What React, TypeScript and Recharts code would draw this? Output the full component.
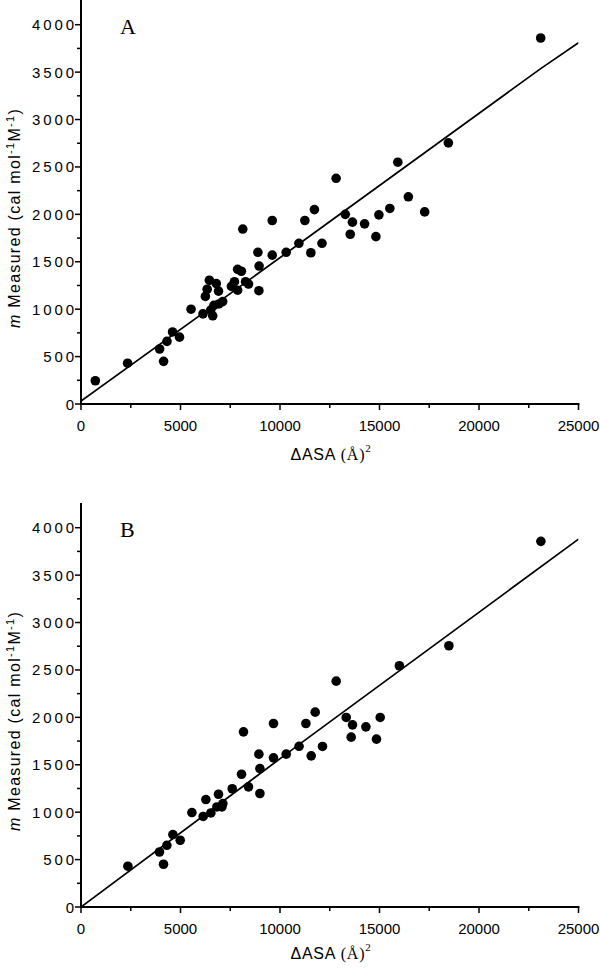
import React from "react";
import { ScatterChart, Scatter, XAxis, YAxis } from "recharts";

const SANS = "'Liberation Sans', Arial, sans-serif";
const SERIF = "'Liberation Serif', 'Times New Roman', serif";

// panel A: ΔASA (Å²) and measured m values
const aArea = [
  720, 2340, 3950, 4150, 4320, 4600, 4950, 5530, 6130, 6250, 6340, 6450, 6520,
  6620, 6680, 6800, 6910, 6930, 7120, 7560, 7710, 7870, 7870, 8060, 8130, 8270,
  8420, 8890, 8950, 8940, 9610, 9610, 10310, 10950, 11250, 11550, 11730, 12110,
  12820, 13280, 13640, 13530, 14250, 14820, 14970, 15520, 15920, 16450, 17270,
  18460, 23100,
];
const aM = [
  245, 430, 580, 450, 660, 760, 705, 1000, 950, 1135, 1210, 1305, 990, 930,
  1040, 1270, 1190, 1055, 1080, 1240, 1290, 1200, 1420, 1400, 1845, 1290, 1265,
  1600, 1455, 1195, 1935, 1570, 1600, 1695, 1935, 1595, 2050, 1695, 2380, 2000,
  1918, 1790, 1900, 1765, 1995, 2062, 2550, 2185, 2026, 2754, 3860,
];

// panel B
const bArea = [
  2355, 3945, 4146, 4315, 4618, 4985, 5573, 6140, 6276, 6527, 6910, 6827, 7080,
  7130, 7600, 8066, 8166, 8417, 8939, 8990, 8990, 9673, 9673, 10312, 10958,
  11301, 11568, 11769, 12136, 12824, 13327, 13643, 13578, 14317, 14849, 15035,
  16000, 18487, 23110,
];
const bM = [
  430, 580, 451, 651, 764, 704, 996, 955, 1133, 992, 1189, 1055, 1055, 1091,
  1247, 1400, 1847, 1267, 1612, 1460, 1197, 1935, 1573, 1612, 1695, 1935, 1594,
  2055, 1693, 2382, 1999, 1921, 1791, 1900, 1770, 1999, 2544, 2755, 3856,
];

// fitted lines
const aFitArea = [0, 11000, 23100, 25000];
const aFitM = [30, 1695, 3537, 3810];
const bFitArea = [0, 11000, 25000];
const bFitM = [0, 1720, 3880];

const xTicks = [0, 2500, 5000, 7500, 10000, 12500, 15000, 17500, 20000, 22500, 25000];
const yTicks = [
  0, 250, 500, 750, 1000, 1250, 1500, 1750, 2000, 2250, 2500, 2750, 3000, 3250,
  3500, 3750, 4000,
];

const toPts = (xs: number[], ys: number[]) => xs.map((x, i) => ({ x, y: ys[i] }));

const BottomTick = (p: any) => {
  const major = p.payload.value % 5000 === 0;
  return (
    <g>
      <line x1={p.x} x2={p.x} y1={p.y} y2={p.y + (major ? 6 : 4)} stroke="#000" strokeWidth={1.5} />
      {major && (
        <text x={p.x} y={p.y + 27} textAnchor="middle" fontFamily={SANS} fontSize={15} fill="#000">
          {p.payload.value}
        </text>
      )}
    </g>
  );
};

const TopTick = (p: any) => {
  const major = p.payload.value % 5000 === 0;
  return <line x1={p.x} x2={p.x} y1={p.y} y2={p.y + (major ? 7 : 5)} stroke="#000" strokeWidth={1.5} />;
};

const LeftTick = (p: any) => {
  const major = p.payload.value % 500 === 0;
  return (
    <g>
      <line x1={p.x} x2={p.x - (major ? 6 : 4)} y1={p.y} y2={p.y} stroke="#000" strokeWidth={1.5} />
      {major && (
        <text x={p.x - 4} y={p.y + 5.5} textAnchor="end" fontFamily={SANS} fontSize={15} letterSpacing={2.9} fill="#000">
          {p.payload.value}
        </text>
      )}
    </g>
  );
};

const RightTick = (p: any) => {
  const major = p.payload.value % 500 === 0;
  return <line x1={p.x} x2={p.x - (major ? 7 : 5)} y1={p.y} y2={p.y} stroke="#000" strokeWidth={1.5} />;
};

const Dot = (p: any) => <circle cx={p.cx} cy={p.cy} r={4.8} fill="#000" />;
const NoDot = () => <g />;

const axisLine = { stroke: "#000", strokeWidth: 2, strokeLinecap: "square" as const };

function Panel({ letter, area, m, fitArea, fitM, top, titleY }: any) {
  return (
    <div style={{ position: "absolute", left: 0, top, width: 600, height: 480 }}>
      <ScatterChart width={600} height={480} margin={{ top: 1, right: 21.5, bottom: 0, left: 0 }}>
        <XAxis
          type="number"
          dataKey="x"
          domain={[0, 25000]}
          allowDataOverflow
          ticks={xTicks}
          interval={0}
          height={76}
          tickSize={0}
          tickMargin={0}
          tickLine={false}
          axisLine={axisLine}
          tick={BottomTick}
        />
        <XAxis
          xAxisId="top"
          orientation="top"
          type="number"
          dataKey="x"
          domain={[0, 25000]}
          allowDataOverflow
          ticks={xTicks}
          interval={0}
          height={0}
          tickSize={0}
          tickMargin={0}
          tickLine={false}
          axisLine={axisLine}
          tick={TopTick}
        />
        <YAxis
          type="number"
          dataKey="y"
          domain={[0, 4250]}
          allowDataOverflow
          ticks={yTicks}
          interval={0}
          width={81}
          tickSize={0}
          tickMargin={0}
          tickLine={false}
          axisLine={axisLine}
          tick={LeftTick}
        />
        <YAxis
          yAxisId="right"
          orientation="right"
          type="number"
          dataKey="y"
          domain={[0, 4250]}
          allowDataOverflow
          ticks={yTicks}
          interval={0}
          width={0}
          tickSize={0}
          tickMargin={0}
          tickLine={false}
          axisLine={axisLine}
          tick={RightTick}
        />
        <Scatter
          data={toPts(fitArea, fitM)}
          xAxisId="top"
          yAxisId="right"
          line={{ stroke: "#000", strokeWidth: 1.7 }}
          shape={NoDot}
          isAnimationActive={false}
        />
        <Scatter data={toPts(area, m)} shape={Dot} isAnimationActive={false} />
        <text x={120} y={33.5} fontFamily={SERIF} fontSize={22} fill="#000">
          {letter}
        </text>
        <text x={331} y={titleY} textAnchor="middle" fontFamily={SANS} fontSize={16} letterSpacing={0.8} fill="#000">
          ΔASA <tspan fontFamily={SERIF}>(Å)</tspan>
          <tspan fontFamily={SERIF} fontSize={11} dy={-8}>2</tspan>
        </text>
        <text
          x={20}
          y={218}
          transform="rotate(-90 20 218)"
          textAnchor="middle"
          fontFamily={SANS}
          fontSize={16}
          letterSpacing={1.3}
          fill="#000"
        >
          <tspan fontStyle="italic">m</tspan> Measured (cal mol
          <tspan fontSize={11} dy={-6}>-1</tspan>
          <tspan dy={6}>M</tspan>
          <tspan fontSize={11} dy={-6}>-1</tspan>
          <tspan dy={6}>)</tspan>
        </text>
      </ScatterChart>
    </div>
  );
}

export default function App() {
  return (
    <div style={{ position: "absolute", left: 0, top: 0, width: 600, height: 971, background: "#fff" }}>
      <Panel letter="A" area={aArea} m={aM} fitArea={aFitArea} fitM={aFitM} top={0} titleY={460} />
      <Panel letter="B" area={bArea} m={bM} fitArea={bFitArea} fitM={bFitM} top={503} titleY={456} />
    </div>
  );
}
